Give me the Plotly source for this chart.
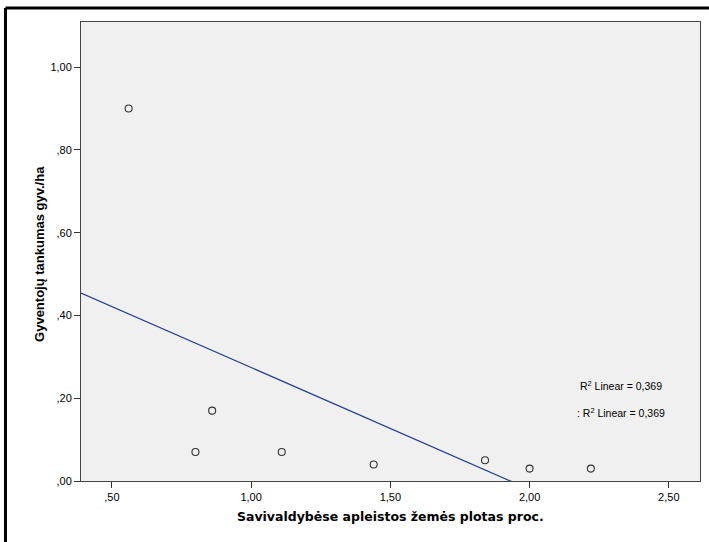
import numpy as np
import plotly.graph_objects as go

# Data
x_vals = [0.56, 0.80, 0.86, 1.11, 1.44, 1.84, 2.00, 2.22]
y_vals = [0.90, 0.07, 0.17, 0.07, 0.04, 0.05, 0.03, 0.03]

x_ticks = [0.5, 1.0, 1.5, 2.0, 2.5]
x_tick_labels = [",50", "1,00", "1,50", "2,00", "2,50"]
y_ticks = [0.0, 0.2, 0.4, 0.6, 0.8, 1.0]
y_tick_labels = [",00", ",20", ",40", ",60", ",80", "1,00"]

x_title = "Savivaldybėse apleistos žemės plotas proc."
y_title = "Gyventojų tankumas gyv./ha"
r2_labels = ["R<sup>2</sup> Linear = 0,369", ": R<sup>2</sup> Linear = 0,369"]

x_range = [0.389, 2.612]
y_range = [0.0, 1.109]

# Linear fit
slope, intercept = np.polyfit(x_vals, y_vals, 1)
fit_x = np.array(x_range)
fit_y = slope * fit_x + intercept

FONT = "Liberation Sans, Arial, sans-serif"

fig = go.Figure()
fig.add_trace(go.Scatter(
    x=fit_x, y=fit_y, mode="lines",
    line=dict(color="#25408f", width=1.3),
    hoverinfo="skip", showlegend=False,
))
fig.add_trace(go.Scatter(
    x=x_vals, y=y_vals, mode="markers",
    marker=dict(symbol="circle-open", size=7, color="#333333", line=dict(width=1.1)),
    showlegend=False, cliponaxis=False,
))

fig.update_layout(
    width=709, height=542,
    margin=dict(l=81, r=9, t=22, b=61),
    paper_bgcolor="white",
    plot_bgcolor="#f0f0f0",
    font=dict(family=FONT, size=11, color="black"),
    showlegend=False,
)
fig.update_xaxes(
    range=x_range, tickvals=x_ticks, ticktext=x_tick_labels,
    showgrid=False, zeroline=False,
    showline=True, linecolor="#444444", linewidth=1, mirror=True,
    ticks="outside", ticklen=6, tickwidth=1, tickcolor="#333333",
    tickfont=dict(family=FONT, size=11, color="black"),
)
fig.update_yaxes(
    range=y_range, tickvals=y_ticks, ticktext=y_tick_labels,
    showgrid=False, zeroline=False,
    showline=True, linecolor="#444444", linewidth=1, mirror=True,
    ticks="outside", ticklen=6, tickwidth=1, tickcolor="#333333",
    tickfont=dict(family=FONT, size=11, color="black"),
)

# Outer black frame: top and left edges only (the rest is cropped off)
fig.add_shape(type="line", xref="paper", yref="paper",
              x0=-0.1220, x1=1.0145, y0=1.0305, y1=1.0305,
              line=dict(color="black", width=3), layer="above")
fig.add_shape(type="line", xref="paper", yref="paper",
              x0=-0.1220, x1=-0.1220, y0=-0.133, y1=1.0305,
              line=dict(color="black", width=3), layer="above")

# Axis titles
fig.add_annotation(text=f"<b>{x_title}</b>", xref="paper", yref="paper",
                   x=0.5, y=-0.078, showarrow=False, xanchor="center", yanchor="middle",
                   font=dict(family="DejaVu Sans, Verdana, sans-serif", size=12.5, color="black"))
fig.add_annotation(text=f"<b>{y_title}</b>", xref="paper", yref="paper",
                   x=-0.066, y=0.495, showarrow=False, textangle=-90,
                   xanchor="center", yanchor="middle",
                   font=dict(family=FONT, size=13, color="black"))

# R² labels
for lbl, yy in zip(r2_labels, [0.231, 0.165]):
    fig.add_annotation(text=lbl, xref="x", yref="y", x=2.328, y=yy,
                       showarrow=False, xanchor="center", yanchor="middle",
                       font=dict(family=FONT, size=10.5, color="black"))

fig.write_html("out.html", config={"displayModeBar": False},
               post_script="document.body.style.margin='0';document.body.style.padding='0';"
                           "document.body.style.overflow='hidden';"
                           "document.documentElement.style.overflow='hidden';")
